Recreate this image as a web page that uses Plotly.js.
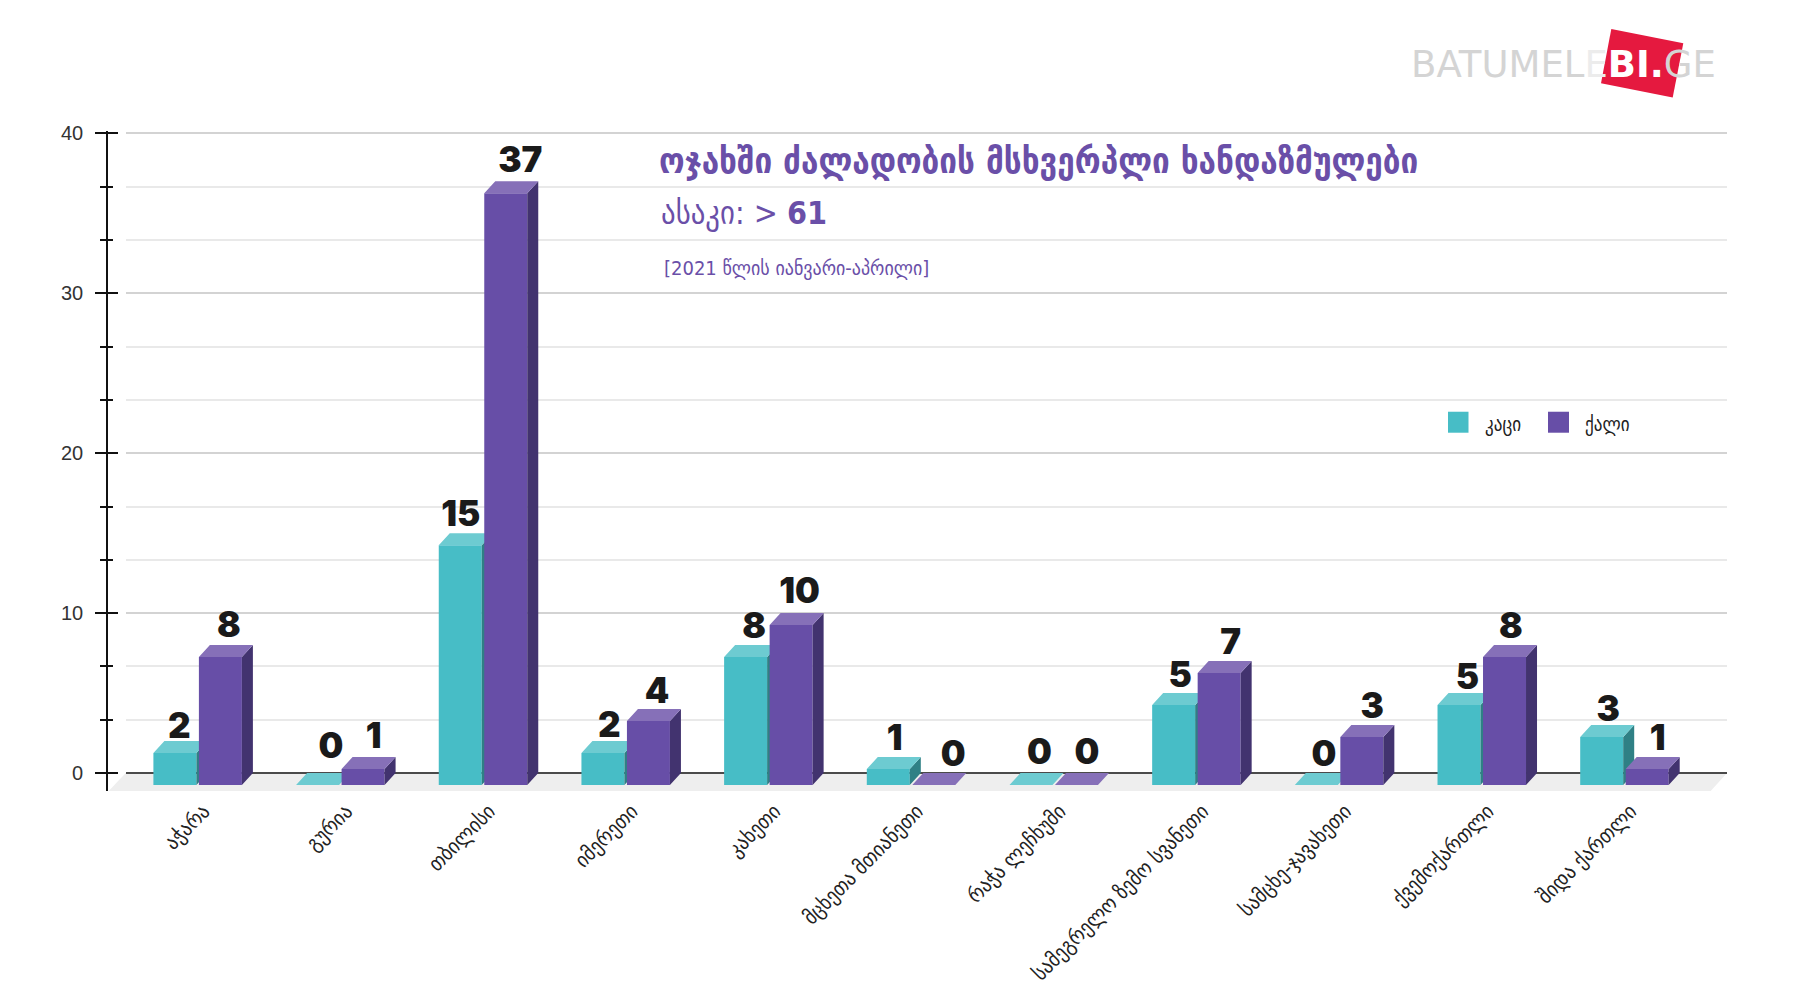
<!DOCTYPE html>
<html><head><meta charset="utf-8">
<script src="https://cdn.plot.ly/plotly-3.0.1.min.js"></script>
<style>html,body{margin:0;padding:0;background:#fff}#c{width:1819px;height:1000px}</style>
</head><body><div id="c"></div>
<script>
const categories=["აჭარა","გურია","თბილისი","იმერეთი","კახეთი","მცხეთა მთიანეთი","რაჭა ლეჩხუმი","სამეგრელო ზემო სვანეთი","სამცხე-ჯავახეთი","ქვემოქართლი","შიდა ქართლი"];
const menName="კაცი";
const womenName="ქალი";
const men=[2,0,15,2,8,1,0,5,0,5,3];
const women=[8,1,37,4,10,0,0,7,3,8,1];
const yTicks=[0,10,20,30,40];
// label nudges in page pixels (right, down)
const menNudgeX=[-1,8,-5,1,3,1,3,1,2,3,1];
const menNudgeY=[6,-6,2,5,2,2,0,3,2,5,5];
const womenNudgeX=[3,5,9,3,3,14,5,6,5,1,5];
const womenNudgeY=[1,0,-1,3,-1,2,0,2,2,2,2];

// geometry, pixels of the 1819x1000 page
const W=1819,H=1000,top_=133.5,bot=791.5,pxPerUnit=16,slot=142.68,firstCenter=197.7,gridL=125.7,gridR=1727;
const xRange=[(gridL-firstCenter)/slot,(gridR-firstCenter)/slot];
const head=0.15;
const yRange=[-(bot-773.5)/pxPerUnit,40+head];
const plotTop=top_-head*pxPerUnit;
const barW=43/slot, offM=-44.3/slot, offW=1.2/slot, dx=11/slot, dy=12/pxPerUnit;
const idx=categories.map((_,i)=>i);
const purple="#674ea7",purpleSide="#42336f",purpleTop="#8670b8",teal="#47bdc6",tealSide="#2f8085",tealTop="#6dcbd1";

function poly(vals,off,kind){
  const xs=[],ys=[];
  vals.forEach((v,i)=>{
    const a=i+off,b=a+barW;
    const P= kind==='top' ? [[a,v-dy],[b,v-dy],[b+dx,v],[a+dx,v],[a,v-dy]]
                          : [[b,-dy],[b+dx,0],[b+dx,v],[b,v-dy],[b,-dy]];
    P.forEach(p=>{xs.push(p[0]);ys.push(p[1]);});
    xs.push(null);ys.push(null);
  });
  return {x:xs,y:ys};
}
function series(name,vals,off,col,side,topc,xa,ya){
  return [
   {type:'bar',name:name,x:idx,y:vals,base:-dy,offset:off,width:barW,marker:{color:col,line:{width:0}},xaxis:xa,yaxis:ya,showlegend:false,hoverinfo:'skip'},
   Object.assign(poly(vals,off,'side'),{type:'scatter',mode:'lines',fill:'toself',fillcolor:side,line:{width:0,color:side},xaxis:xa,yaxis:ya,showlegend:false,hoverinfo:'skip'}),
   Object.assign(poly(vals,off,'top'),{type:'scatter',mode:'lines',fill:'toself',fillcolor:topc,line:{width:0,color:topc},xaxis:xa,yaxis:ya,showlegend:false,hoverinfo:'skip'})
  ];
}
function labels(vals,off,nx,ny){
  return {type:'scatter',mode:'text',x:idx.map(i=>i+off+barW/2+dx/2+nx[i]/slot),y:vals.map((v,i)=>v-ny[i]/pxPerUnit),text:vals.map(String),textposition:'top center',
    textfont:{family:'Inter, Roboto, "DejaVu Sans"',size:35,weight:900,color:'#1a1a1a'},cliponaxis:false,xaxis:'x2',yaxis:'y2',showlegend:false,hoverinfo:'skip'};
}
const data=[
  ...series(menName,men,offM,teal,tealSide,tealTop,'x','y'),
  ...series(womenName,women,offW,purple,purpleSide,purpleTop,'x2','y2'),
  labels(men,offM,menNudgeX,menNudgeY),labels(women,offW,womenNudgeX,womenNudgeY)
];
const geo='"DejaVu Sans Condensed","DejaVu Sans"';
const px=x=>x/W;
const py=y=>(bot-y)/(bot-plotTop);   // paper y is measured inside the plot area
const commonY={range:yRange,anchor:'free',position:px(106.7),linecolor:'#111',linewidth:2,showline:true,tickcolor:'#111',tickwidth:2};
const layout={
  width:W,height:H,paper_bgcolor:'#fff',plot_bgcolor:'rgba(0,0,0,0)',showlegend:false,barmode:'overlay',
  margin:{l:0,r:0,t:plotTop,b:H-bot,pad:0},
  title:{text:"ოჯახში ძალადობის მსხვერპლი ხანდაზმულები",x:px(659),xanchor:'left',xref:'paper',y:1-161/H,yanchor:'middle',yref:'container',font:{family:geo,size:35,weight:700,color:'#6a4fa8'}},
  xaxis:{domain:[px(gridL),px(gridR)],range:xRange,tickmode:'array',tickvals:idx,ticktext:categories,tickangle:-45,ticks:'',showgrid:false,zeroline:false,showline:false,
    tickfont:{family:geo,size:21,color:'#222'},ticklabelshift:6,ticklabelstandoff:3,automargin:false},
  xaxis2:{overlaying:'x',range:xRange,visible:false},
  yaxis:Object.assign({},commonY,{tickmode:'array',tickvals:yTicks,ticks:'outside',ticklen:10.5,tickfont:{family:'"Liberation Sans"',size:20,color:'#333'},ticklabelstandoff:8,
    showgrid:true,gridcolor:'#d3d3d3',gridwidth:2,zeroline:true,zerolinecolor:'#4a4a4a',zerolinewidth:2.5,automargin:false,
    minor:{dtick:10/3,tick0:0,ticks:'outside',ticklen:5.5,tickcolor:'#111',tickwidth:2,showgrid:true,gridcolor:'#e9e9e9',gridwidth:2}}),
  yaxis2:Object.assign({},commonY,{overlaying:'y',tickmode:'array',tickvals:yTicks,ticks:'inside',ticklen:10.5,showticklabels:false,showgrid:false,zeroline:false,
    minor:{dtick:10/3,tick0:0,ticks:'inside',ticklen:5.5,tickcolor:'#111',tickwidth:2,showgrid:false}}),
  shapes:[
    {type:'path',xref:'paper',yref:'y',layer:'below',line:{width:0},fillcolor:'#eeeeee',
     path:`M${px(gridL)},0 L${px(gridR)},0 L${px(1710.7)},${yRange[0]} L${px(108.7)},${yRange[0]} Z`},
    {type:'rect',xref:'paper',yref:'paper',x0:px(1448),x1:px(1468.5),y0:py(433),y1:py(412),fillcolor:teal,line:{width:0}},
    {type:'rect',xref:'paper',yref:'paper',x0:px(1548),x1:px(1569),y0:py(433),y1:py(412),fillcolor:purple,line:{width:0}},
    {type:'path',xref:'paper',yref:'paper',line:{width:0},fillcolor:'#e5193f',layer:'above',
     path:`M${px(1611.3)},${py(29)} L${px(1683.3)},${py(43.3)} L${px(1672.7)},${py(97.7)} L${px(1601)},${py(83.3)} Z`}
  ],
  annotations:[
    {text:"ასაკი: > <b>61</b>",xref:'paper',yref:'paper',x:px(659),y:py(213),xanchor:'left',yanchor:'middle',showarrow:false,font:{family:geo,size:32,color:'#6a4fa8'}},
    {text:"[2021 წლის იანვარი-აპრილი]",xref:'paper',yref:'paper',x:px(662),y:py(268),xanchor:'left',yanchor:'middle',showarrow:false,font:{family:geo,size:20,color:'#6a4fa8'}},
    {text:menName,xref:'paper',yref:'paper',x:px(1483),y:py(425),xanchor:'left',yanchor:'middle',showarrow:false,font:{family:geo,size:19,color:'#222'}},
    {text:womenName,xref:'paper',yref:'paper',x:px(1583),y:py(425),xanchor:'left',yanchor:'middle',showarrow:false,font:{family:geo,size:19,color:'#222'}},
    {text:'BATUMEL<span style="color:#ececec">E</span><span style="color:#fff"><b>BI.</b></span>GE',xref:'paper',yref:'paper',x:px(1563),y:py(65),xanchor:'center',yanchor:'middle',showarrow:false,font:{family:'"DejaVu Sans"',size:37,color:'#d4d4d4'}}
  ]
};
Plotly.newPlot('c',data,layout,{displayModeBar:false,staticPlot:true});
</script></body></html>
